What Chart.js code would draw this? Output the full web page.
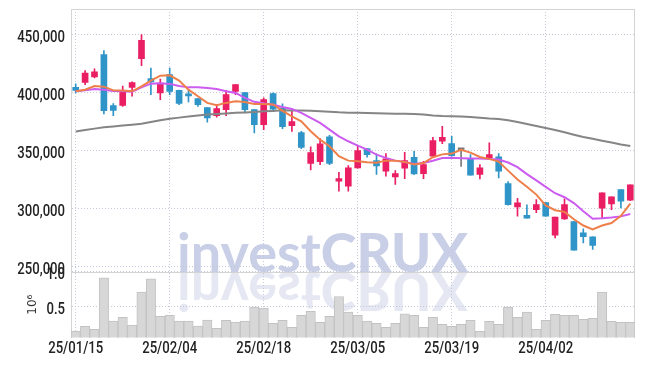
<!DOCTYPE html>
<html>
<head>
<meta charset="utf-8">
<script src="https://cdn.jsdelivr.net/npm/chart.js@4.4.1/dist/chart.umd.min.js"></script>
<style>
  body { margin: 0; background: #fff; }
</style>
</head>
<body>
<canvas id="myChart" width="645" height="366"></canvas>
<script>
// Chart data (KRW, daily candles)

let dates = ['25/01/15', '25/01/16', '25/01/17', '25/01/20', '25/01/21', '25/01/22', '25/01/23', '25/01/24', '25/01/31', '25/02/03',
  '25/02/04', '25/02/05', '25/02/06', '25/02/07', '25/02/10', '25/02/11', '25/02/12', '25/02/13', '25/02/14', '25/02/17',
  '25/02/18', '25/02/19', '25/02/20', '25/02/21', '25/02/24', '25/02/25', '25/02/26', '25/02/27', '25/02/28', '25/03/04',
  '25/03/05', '25/03/06', '25/03/07', '25/03/10', '25/03/11', '25/03/12', '25/03/13', '25/03/14', '25/03/17', '25/03/18',
  '25/03/19', '25/03/20', '25/03/21', '25/03/24', '25/03/25', '25/03/26', '25/03/27', '25/03/28', '25/03/31', '25/04/01',
  '25/04/02', '25/04/03', '25/04/04', '25/04/07', '25/04/08', '25/04/09', '25/04/10', '25/04/11', '25/04/14', '25/04/15'];

let openPrices = [404800, 409100, 413800, 433000, 389100, 389300, 404800, 429600, 412300, 400000,
  415800, 402200, 398500, 395100, 387300, 380400, 385600, 401400, 400300, 385600,
  372700, 399400, 387100, 371800, 365800, 339300, 340800, 362100, 323800, 319500,
  335400, 352000, 341600, 332400, 327600, 335000, 344500, 330400, 345400, 358300,
  356300, 351000, 343100, 329800, 344000, 344800, 321800, 301700, 294500, 299400,
  305400, 277300, 291400, 289000, 279300, 275900, 300500, 304300, 316600, 307400];

let highPrices = [407800, 419200, 420700, 436500, 390800, 406000, 409500, 450300, 421500, 412000,
  421500, 402500, 402800, 395100, 387300, 389900, 402200, 407500, 400500, 385600,
  395700, 400000, 390500, 384100, 366900, 353500, 360600, 363500, 331600, 337300,
  354000, 352000, 347400, 347700, 333000, 348800, 349700, 341000, 361700, 371200,
  362600, 351700, 346800, 338200, 356900, 347700, 323500, 309100, 303500, 308000,
  305400, 292800, 308600, 289000, 282800, 275900, 313800, 310400, 316600, 320700];

let lowPrices = [400000, 407200, 412900, 381900, 380400, 388400, 397100, 423500, 398500, 394200,
  398500, 389900, 392200, 388400, 374700, 379000, 380400, 398500, 382800, 365500,
  368400, 385000, 369200, 366900, 352000, 333600, 338200, 338200, 315200, 315200,
  335000, 344500, 329600, 328100, 321000, 326100, 329600, 326100, 345100, 356300,
  345400, 336700, 329000, 325900, 342500, 326700, 303100, 293600, 291900, 296600,
  293600, 275000, 290800, 264300, 270700, 264900, 292300, 299400, 300900, 307000];

let closePrices = [402200, 417200, 418100, 384700, 385000, 402200, 408900, 445300, 409500, 408600,
  401400, 391000, 397400, 389900, 378400, 386500, 398500, 407200, 385600, 372700,
  394200, 385900, 371000, 375300, 353100, 348500, 356000, 339300, 326100, 335400,
  350300, 346800, 337100, 343100, 330400, 341600, 330200, 338200, 358900, 361700,
  345900, 351000, 329000, 335400, 346800, 332400, 303700, 305200, 291900, 303700,
  293600, 292800, 303700, 264300, 275900, 268400, 313800, 310400, 306600, 320700];

let volumes = [147000, 215000, 171000, 913000, 292000, 346000, 234000, 709000, 898000, 360000,
  375000, 292000, 292000, 219000, 307000, 186000, 302000, 278000, 292000, 491000,
  477000, 259000, 302000, 201000, 375000, 433000, 273000, 360000, 645000, 419000,
  375000, 292000, 259000, 201000, 259000, 394000, 375000, 201000, 346000, 244000,
  215000, 244000, 302000, 142000, 288000, 244000, 491000, 346000, 419000, 171000,
  302000, 390000, 375000, 375000, 317000, 331000, 709000, 288000, 273000, 273000];

let ma5 = [401400, 402800, 406000, 405400, 402200, 402000, 401400, 405700, 410600, 414900,
  415200, 410600, 402800, 397100, 391400, 389300, 391400, 392800, 392200, 390500,
  390500, 390000, 384500, 379800, 375500, 366900, 359700, 354000, 345400, 341600,
  341000, 340200, 339700, 341600, 341600, 340500, 338200, 339500, 344500, 347000,
  347700, 351000, 348500, 344800, 343100, 340800, 333000, 325300, 319000, 312300,
  303000, 298800, 297400, 291000, 285600, 282200, 285600, 287800, 294000, 304500];

let ma20 = [401400, 402200, 403400, 402800, 401700, 401400, 401100, 404800, 408000, 408300,
  407800, 406000, 404800, 404800, 404300, 403400, 401400, 400000, 395700, 392300,
  391000, 389900, 387900, 386200, 382800, 378400, 374100, 368400, 362600, 358300,
  354600, 351100, 346800, 344000, 341600, 340500, 338800, 339500, 341500, 343800,
  344000, 343700, 343400, 343400, 343100, 342500, 340000, 336000, 330000, 324500,
  319000, 313500, 310000, 305000, 298000, 291400, 291800, 292500, 293500, 295500];

let ma60 = [366800, 368000, 369200, 370300, 371000, 371800, 372600, 373500, 375000, 376400,
  377800, 378700, 379600, 380500, 381300, 381800, 382300, 382800, 383200, 383600,
  384100, 384500, 385000, 384900, 384800, 384700, 384200, 383800, 383300, 383000,
  382800, 382600, 382400, 382200, 382100, 382000, 381900, 381300, 380500, 380000,
  379800, 379600, 379200, 378600, 378000, 377600, 376500, 375000, 373200, 371500,
  369800, 368000, 366000, 364000, 362000, 360400, 358800, 357200, 355600, 354200];

let priceTicks = [250000, 300000, 350000, 400000, 450000];
let volumeTicks = [500000, 1000000];

let upColor = '#e91e63';
let downColor = '#2f95c8';
let flatColor = '#7a7a7a';
let gridColor = '#c6c9da';
let frameColor = '#d4d4d4';
let labelColor = '#222';
let labelFont = '500 16px Roboto';
let hidden = 'rgba(0,0,0,0)';

// candle colour from open / close
function candleColor(i) {
  if (closePrices[i] > openPrices[i]) return upColor;
  if (closePrices[i] < openPrices[i]) return downColor;
  return flatColor;
}

let bodyData = [];
let wickData = [];
let candleColors = [];
for (let i = 0; i < dates.length; i++) {
  bodyData.push([openPrices[i], closePrices[i]]);
  wickData.push([lowPrices[i], highPrices[i]]);
  candleColors.push(candleColor(i));
}

// watermark with its reflection, drawn under the grid
let watermark = {
  id: 'watermark',
  beforeDraw(chart) {
    let ctx = chart.ctx;
    let baseY = chart.scales.y.bottom;
    let partA = 'invest';
    let partB = 'CRUX';
    let fontA = '700 54px Lato';
    let fontB = '900 54px Lato';
    ctx.save();
    ctx.font = fontA;
    let wA = ctx.measureText(partA).width;
    ctx.font = fontB;
    let wB = ctx.measureText(partB).width;
    let startX = chart.width / 2 - (wA + wB) / 2;

    function drawWord() {
      ctx.font = fontA;
      ctx.fillText(partA, startX, baseY);
      ctx.font = fontB;
      ctx.fillText(partB, startX + wA, baseY);
    }
    ctx.textBaseline = 'alphabetic';
    ctx.fillStyle = '#c8cfe6';
    drawWord();
    // mirrored copy
    ctx.translate(0, baseY * 2);
    ctx.scale(1, -1);
    ctx.fillStyle = '#e5e8f2';
    drawWord();
    ctx.restore();
  }
};

// plot frame: top, right and the line between price and volume panels
let frame = {
  id: 'frame',
  beforeDatasetsDraw(chart) {
    let ctx = chart.ctx;
    let area = chart.chartArea;
    let sepY = Math.round(chart.scales.y.bottom) + 0.5;
    ctx.save();
    ctx.strokeStyle = frameColor;
    ctx.lineWidth = 1;
    ctx.beginPath();
    ctx.moveTo(area.left, Math.round(area.top) + 0.5);
    ctx.lineTo(area.right, Math.round(area.top) + 0.5);
    ctx.moveTo(Math.round(area.right) - 0.5, area.top);
    ctx.lineTo(Math.round(area.right) - 0.5, area.bottom);
    ctx.moveTo(area.left, sepY);
    ctx.lineTo(area.right, sepY);
    ctx.stroke();
    ctx.restore();
  }
};

// tick labels in a narrow face: the library's own labels are kept invisible
// for layout and redrawn here squeezed horizontally
function narrowText(ctx, text, x, y, align) {
  ctx.save();
  ctx.translate(x, y);
  ctx.scale(0.82, 1);
  ctx.textAlign = align;
  ctx.fillText(text, 0, 0);
  ctx.restore();
}

let narrowLabels = {
  id: 'narrowLabels',
  afterDraw(chart) {
    let ctx = chart.ctx;
    ctx.save();
    ctx.font = labelFont;
    ctx.fillStyle = labelColor;
    ctx.textBaseline = 'alphabetic';
    ['y', 'yv'].forEach((id) => {
      let scale = chart.scales[id];
      scale.ticks.forEach((t) => {
        narrowText(ctx, t.label, scale.right - 6, scale.getPixelForValue(t.value) + 7, 'right');
      });
    });
    let xs = chart.scales.x;
    xs.ticks.forEach((t, i) => {
      if (t.label) {
        narrowText(ctx, t.label, xs.getPixelForTick(i), xs.top + 15.5, 'center');
      }
    });
    ctx.restore();
  }
};

function noPadding(scale) {
  scale.paddingTop = 0;
  scale.paddingBottom = 0;
  scale.paddingLeft = 0;
  scale.paddingRight = 0;
}

function chartRender() {
  let ctx = document.getElementById('myChart').getContext('2d');
  // eslint-disable-next-line no-undef
  let myChart = new Chart(ctx, {
    type: 'bar',
    data: {
      labels: dates,
      datasets: [{
        type: 'line',
        label: 'MA5',
        data: ma5,
        borderColor: '#ee7f4a',
        borderWidth: 2,
        pointRadius: 0,
        yAxisID: 'y',
        order: 0
      }, {
        type: 'line',
        label: 'MA20',
        data: ma20,
        borderColor: '#cc5cf0',
        borderWidth: 2,
        pointRadius: 0,
        yAxisID: 'y',
        order: 0
      }, {
        type: 'line',
        label: 'MA60',
        data: ma60,
        borderColor: '#858585',
        borderWidth: 2,
        pointRadius: 0,
        yAxisID: 'y',
        order: 0
      }, {
        label: 'wick',
        data: wickData,
        backgroundColor: candleColors,
        barThickness: 1,
        grouped: false,
        yAxisID: 'y',
        order: 2
      }, {
        label: 'body',
        data: bodyData,
        backgroundColor: candleColors,
        barThickness: 6,
        minBarLength: 2,
        grouped: false,
        yAxisID: 'y',
        order: 1
      }, {
        label: 'volume',
        data: volumes,
        backgroundColor: '#d7d7d7',
        borderColor: '#c2c2c2',
        borderWidth: 1,
        barPercentage: 1,
        categoryPercentage: 1,
        grouped: false,
        yAxisID: 'yv',
        order: 3
      }]
    },
    options: {
      responsive: false,
      animation: false,
      devicePixelRatio: 1,
      layout: {
        padding: { left: 17, right: 10, top: 9, bottom: 10 }
      },
      plugins: {
        legend: { display: false },
        tooltip: { enabled: false }
      },
      scales: {
        x: {
          offset: true,
          afterFit: (scale) => {
            noPadding(scale);
            scale.height = 18.5;
          },
          grid: {
            offset: false,
            drawTicks: false,
            color: (c) => c.index % 10 === 0 ? gridColor : hidden
          },
          border: { display: false, dash: [1, 2] },
          ticks: {
            autoSkip: false,
            maxRotation: 0,
            color: hidden,
            callback: function(value, index) {
              return index % 10 === 0 ? this.getLabelForValue(value) : '';
            }
          }
        },
        // volume panel listed first so the layout stacks it under the price panel
        yv: {
          position: 'left',
          stack: 'panels',
          stackWeight: 1,
          min: 55000,
          max: 1000000,
          afterBuildTicks: (scale) => {
            scale.ticks = volumeTicks.map(v => ({ value: v }));
          },
          afterFit: (scale) => {
            noPadding(scale);
            scale.width = 54;
          },
          grid: { color: gridColor, drawTicks: false },
          border: { color: frameColor, dash: [1, 2] },
          title: {
            display: true,
            text: '10⁶',
            color: '#333',
            font: { family: 'DejaVu Sans', size: 12 },
            padding: { top: 9, bottom: 2 }
          },
          ticks: {
            color: hidden,
            callback: (v) => (v / 1000000).toFixed(1)
          }
        },
        y: {
          position: 'left',
          stack: 'panels',
          stackWeight: 4,
          min: 245700,
          max: 472400,
          afterBuildTicks: (scale) => {
            scale.ticks = priceTicks.map(v => ({ value: v }));
          },
          afterFit: (scale) => {
            noPadding(scale);
            scale.width = 54;
          },
          grid: { color: gridColor, drawTicks: false },
          border: { color: frameColor, dash: [1, 2] },
          ticks: {
            color: hidden,
            callback: (v) => v.toLocaleString('en-US')
          }
        }
      }
    },
    plugins: [watermark, frame, narrowLabels]
  });
}
chartRender();
</script>
</body>
</html>
